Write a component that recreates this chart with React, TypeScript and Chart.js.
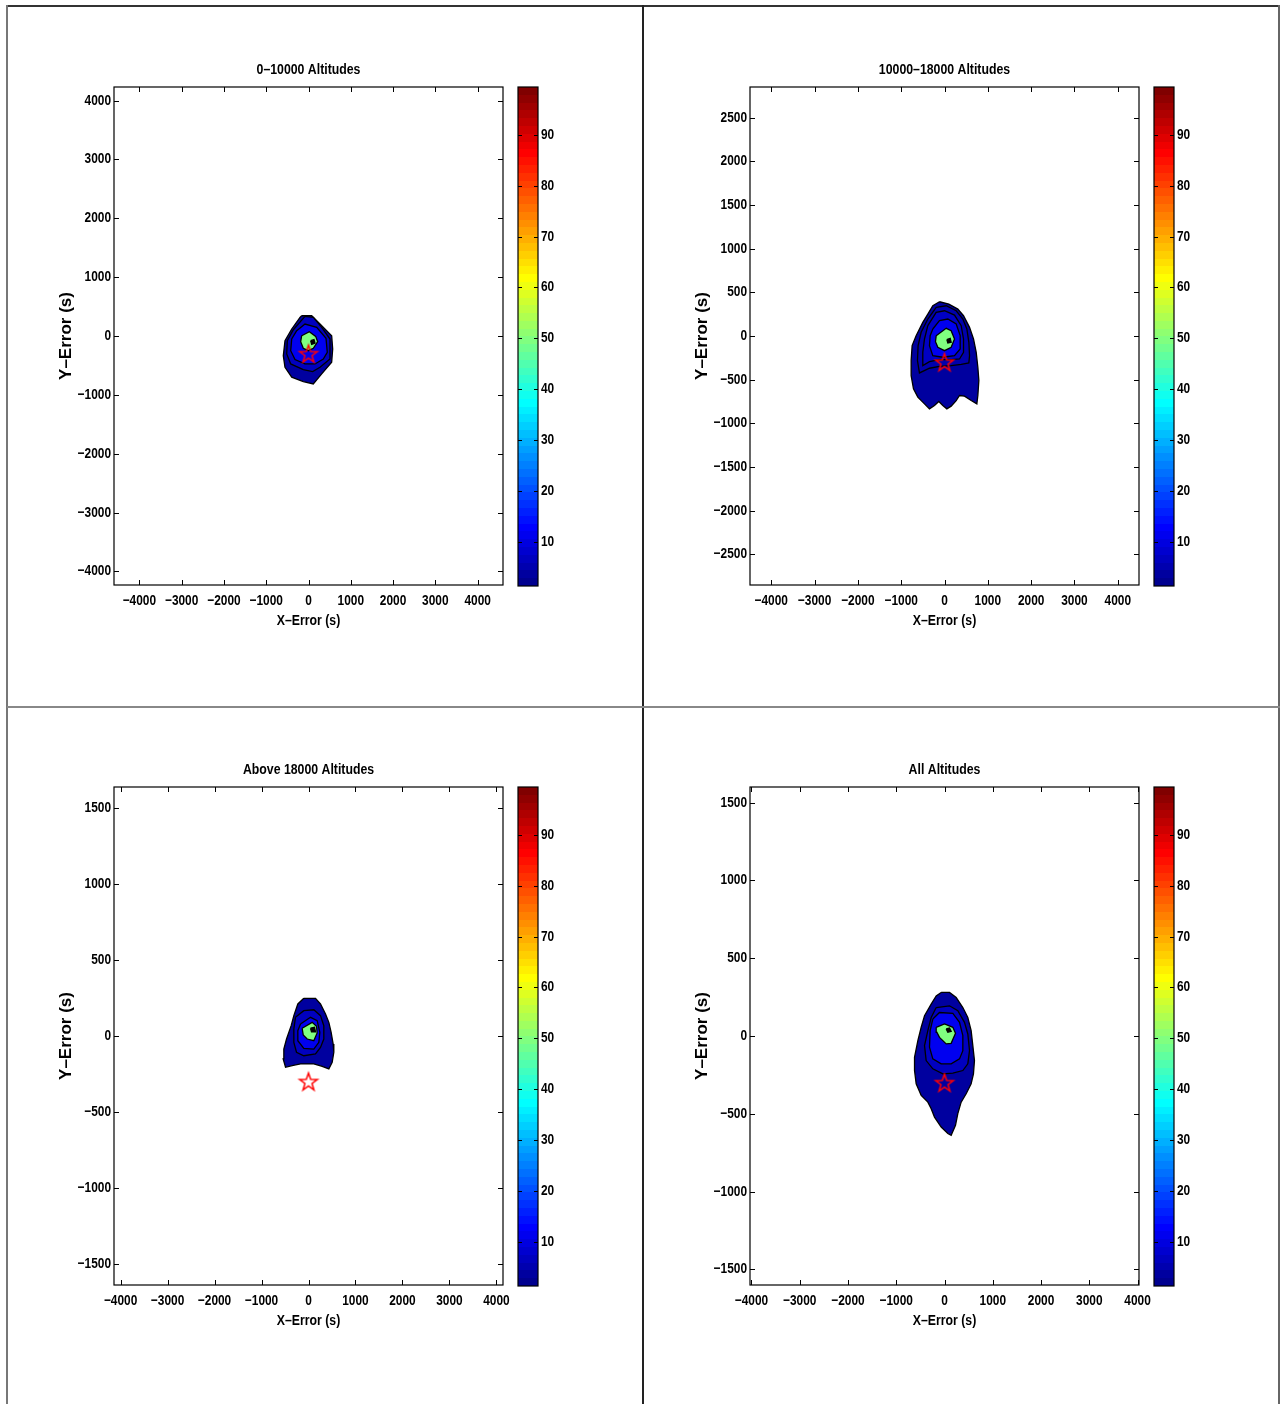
import React, { useEffect, useRef } from 'react';
import { Chart, registerables } from 'chart.js';

Chart.register(...registerables);

type Pt = [number, number];

// ---------- shared axis / colorbar data ----------
const X_TICKS = [-4000, -3000, -2000, -1000, 0, 1000, 2000, 3000, 4000];
const STAR: Pt = [0, -300];
const CBAR_RANGE: Pt = [1.3, 99.4];
const CBAR_TICKS = [10, 20, 30, 40, 50, 60, 70, 80, 90];

// ---------- panel 1 : 0-10000 ----------
const p1Title = '0–10000 Altitudes';
const p1XRange: Pt = [-4600, 4600];
const p1YRange: Pt = [-4230, 4230];
const p1YTicks = [-4000, -3000, -2000, -1000, 0, 1000, 2000, 3000, 4000];
const p1L1: Pt[] = [[-161, 344], [75, 344], [272, 203], [548, 5], [572, -220], [548, -446], [312, -644], [113, -814], [-123, -774], [-397, -700], [-556, -531], [-596, -334], [-556, -80], [-397, 119], [-201, 317]];
const p1L2: Pt[] = [[-83, 334], [114, 317], [312, 147], [508, -51], [508, -390], [272, -531], [99, -605], [-123, -571], [-421, -475], [-515, -305], [-501, -80], [-359, 107]];
const p1L3: Pt[] = [[-279, 90], [-83, 203], [194, 147], [414, -39], [444, -276], [350, -390], [154, -475], [-83, -475], [-319, -401], [-421, -249], [-397, -51]];
const p1Green: Pt[] = [[-161, 5], [20, 73], [170, -6], [217, -96], [114, -209], [-5, -249], [-123, -209], [-185, -96]];
const p1Peak: Pt[] = [[52, -80], [130, -62], [154, -119], [75, -141]];

// ---------- panel 2 : 10000-18000 ----------
const p2Title = '10000–18000 Altitudes';
const p2XRange: Pt = [-4490, 4490];
const p2YRange: Pt = [-2850, 2850];
const p2YTicks = [-2500, -2000, -1500, -1000, -500, 0, 500, 1000, 1500, 2000, 2500];
const p2L1: Pt[] = [[-116, 392], [100, 365], [308, 308], [439, 232], [578, 99], [670, -34], [732, -186], [770, -358], [793, -510], [770, -681], [747, -777], [616, -739], [462, -689], [347, -681], [270, -739], [154, -803], [54, -834], [-39, -796], [-131, -750], [-231, -796], [-347, -834], [-462, -777], [-616, -700], [-716, -605], [-770, -453], [-770, -282], [-747, -110], [-655, 4], [-501, 156], [-385, 251], [-270, 346]];
const p2L2: Pt[] = [[-192, 327], [39, 346], [270, 289], [424, 194], [516, 80], [562, -72], [578, -225], [562, -308], [385, -324], [154, -339], [-116, -347], [-347, -369], [-578, -423], [-624, -282], [-609, -110], [-539, 42], [-385, 194]];
const p2L3: Pt[] = [[-385, 118], [-192, 270], [0, 289], [231, 240], [385, 118], [439, -34], [439, -186], [347, -263], [154, -270], [-116, -270], [-347, -293], [-501, -339], [-501, -186], [-462, -34]];
const p2L4: Pt[] = [[-270, 80], [-116, 175], [77, 194], [270, 137], [362, 4], [362, -148], [231, -225], [-39, -243], [-270, -225], [-347, -110], [-331, 4]];
const p2Green: Pt[] = [[-192, 4], [39, 88], [154, 61], [231, -34], [154, -129], [0, -168], [-154, -129], [-208, -65]];
const p2Peak: Pt[] = [[54, -42], [131, -27], [154, -72], [77, -80]];

// ---------- panel 3 : above 18000 ----------
const p3Title = 'Above 18000 Altitudes';
const p3XRange: Pt = [-4140, 4140];
const p3YRange: Pt = [-1640, 1640];
const p3YTicks = [-1500, -1000, -500, 0, 500, 1000, 1500];
const p3L1: Pt[] = [[-100, 248], [149, 248], [255, 211], [362, 145], [433, 90], [482, 24], [525, -53], [539, -107], [504, -173], [433, -217], [291, -200], [113, -184], [-170, -184], [-347, -195], [-489, -206], [-539, -151], [-525, -86], [-468, -20], [-369, 68], [-312, 134], [-227, 211]];
const p3L2: Pt[] = [[-277, 123], [-100, 167], [113, 173], [255, 134], [326, 68], [326, -20], [255, -75], [149, -118], [-100, -130], [-255, -107], [-312, -42], [-312, 46]];
const p3L3: Pt[] = [[-170, 79], [43, 123], [184, 101], [241, 24], [220, -42], [113, -86], [-100, -81], [-227, -31], [-227, 35]];
const p3Green: Pt[] = [[-135, 51], [78, 90], [170, 64], [184, 20], [113, -31], [-28, -20], [-113, 7]];
const p3Peak: Pt[] = [[43, 51], [128, 57], [149, 28], [64, 28]];

// ---------- panel 4 : all ----------
const p4Title = 'All Altitudes';
const p4XRange: Pt = [-4030, 4030];
const p4YRange: Pt = [-1600, 1600];
const p4YTicks = [-1500, -1000, -500, 0, 500, 1000, 1500];
const p4L1: Pt[] = [[-69, 280], [104, 280], [242, 247], [380, 183], [483, 119], [552, 34], [587, -62], [621, -158], [600, -243], [552, -307], [449, -371], [345, -425], [276, -499], [228, -574], [138, -638], [69, -627], [-69, -585], [-207, -521], [-276, -467], [-345, -425], [-483, -382], [-587, -307], [-621, -222], [-621, -137], [-552, -30], [-483, 56], [-414, 130], [-276, 205], [-172, 258]];
const p4L2: Pt[] = [[-172, 183], [104, 194], [276, 162], [414, 88], [483, 13], [518, -94], [483, -179], [380, -222], [173, -239], [-35, -243], [-242, -211], [-380, -158], [-414, -62], [-345, 34], [-276, 119]];
const p4L3: Pt[] = [[-242, 109], [-104, 151], [173, 145], [311, 88], [380, 2], [380, -94], [311, -147], [138, -179], [-69, -179], [-242, -147], [-311, -72], [-297, 34]];
const p4Green: Pt[] = [[-172, 56], [0, 77], [173, 56], [228, 17], [138, -47], [35, -51], [-104, -9], [-159, 24]];
const p4Peak: Pt[] = [[35, 45], [104, 51], [138, 30], [69, 24]];

// ---------- styling ----------
const NARROW = '"Liberation Sans", sans-serif';
const WIDE = '"Liberation Sans", Arial, sans-serif';
const CONDENSE = 0.82;
const CELL_W = 636;
const CELL_H = 700;

interface PanelCfg {
  title: string;
  xr: Pt;
  yr: Pt;
  yt: number[];
  levels: Pt[][];
  colors: string[];
  col: number;
  row: number;
}

const PANELS: PanelCfg[] = [
  { title: p1Title, xr: p1XRange, yr: p1YRange, yt: p1YTicks, levels: [p1L1, p1L2, p1L3, p1Green, p1Peak], colors: ['#00009f', '#0000bf', '#0000f0', '#80ff80', '#000000'], col: 0, row: 0 },
  { title: p2Title, xr: p2XRange, yr: p2YRange, yt: p2YTicks, levels: [p2L1, p2L2, p2L3, p2L4, p2Green, p2Peak], colors: ['#00009f', '#0000ad', '#0000c4', '#0000f0', '#80ff80', '#000000'], col: 1, row: 0 },
  { title: p3Title, xr: p3XRange, yr: p3YRange, yt: p3YTicks, levels: [p3L1, p3L2, p3L3, p3Green, p3Peak], colors: ['#00009f', '#0000bf', '#0000f0', '#80ff80', '#000000'], col: 0, row: 1 },
  { title: p4Title, xr: p4XRange, yr: p4YRange, yt: p4YTicks, levels: [p4L1, p4L2, p4L3, p4Green, p4Peak], colors: ['#00009f', '#0000bf', '#0000f0', '#80ff80', '#000000'], col: 1, row: 1 },
];

// MATLAB jet(m)
function jet(m: number): string[] {
  const n = Math.ceil(m / 4);
  const u: number[] = [];
  for (let i = 1; i <= n; i++) u.push(i / n);
  for (let i = 1; i < n; i++) u.push(1);
  for (let i = n; i >= 1; i--) u.push(i / n);
  const g0 = Math.ceil(n / 2) - (m % 4 === 1 ? 1 : 0);
  const J = Array.from({ length: m }, () => [0, 0, 0]);
  for (let k = 0; k < u.length; k++) {
    const gi = g0 + k + 1;
    const ri = gi + n;
    const bi = gi - n;
    if (gi >= 1 && gi <= m) J[gi - 1][1] = u[k];
    if (ri >= 1 && ri <= m) J[ri - 1][0] = u[k];
    if (bi >= 1 && bi <= m) J[bi - 1][2] = u[k];
  }
  return J.map(([r, g, b]) => `rgb(${Math.round(r * 255)},${Math.round(g * 255)},${Math.round(b * 255)})`);
}
const JET64 = jet(64);

const fmt = (v: number | string) => {
  const n = Number(v);
  return n < 0 ? '−' + Math.abs(n) : String(n);
};

const closed = (poly: Pt[]) => [...poly, poly[0]].map(([x, y]) => ({ x, y }));

let starCanvas: HTMLCanvasElement | null = null;
function getStar(): HTMLCanvasElement {
  if (starCanvas) return starCanvas;
  const c = document.createElement('canvas');
  c.width = 24;
  c.height = 24;
  const g = c.getContext('2d')!;
  g.strokeStyle = '#ff0000';
  g.lineWidth = 1.5;
  g.lineJoin = 'miter';
  g.beginPath();
  for (let i = 0; i < 10; i++) {
    const r = i % 2 === 0 ? 9.3 : 3.7;
    const ang = -Math.PI / 2 + (i * Math.PI) / 5;
    const x = 12 + r * Math.cos(ang);
    const y = 12.8 + r * Math.sin(ang);
    if (i === 0) g.moveTo(x, y);
    else g.lineTo(x, y);
  }
  g.closePath();
  g.stroke();
  starCanvas = c;
  return c;
}

// Helvetica-Narrow-like rendering: horizontally condense text drawn by the chart
const narrowPlugin = {
  id: 'narrowText',
  beforeDraw(chart: any) {
    const ctx = chart.ctx as any;
    if (ctx.__narrow) return;
    const orig = ctx.fillText.bind(ctx);
    ctx.fillText = (text: string, x: number, y: number, maxWidth?: number) => {
      if (String(ctx.font).includes('Arial')) {
        if (maxWidth === undefined) orig(text, x, y);
        else orig(text, x, y, maxWidth);
        return;
      }
      ctx.save();
      ctx.translate(x, y);
      ctx.scale(CONDENSE, 1);
      if (maxWidth === undefined) orig(text, 0, 0);
      else orig(text, 0, 0, maxWidth / CONDENSE);
      ctx.restore();
    };
    ctx.__narrow = true;
  },
};

const framePlugin = {
  id: 'frame',
  afterDatasetsDraw(chart: any, _args: any, opts: any) {
    const { ctx, chartArea: a, scales } = chart;
    const tl = opts.tickLen ?? 5;
    ctx.save();
    ctx.strokeStyle = '#000';
    ctx.lineWidth = 1;
    ctx.beginPath();
    if (opts.xTicks !== false && scales.x && scales.x.options.display !== false) {
      for (const t of scales.x.ticks) {
        const p = Math.round(scales.x.getPixelForValue(t.value)) + 0.5;
        ctx.moveTo(p, a.bottom);
        ctx.lineTo(p, a.bottom - tl);
        ctx.moveTo(p, a.top);
        ctx.lineTo(p, a.top + tl);
      }
    }
    for (const t of scales.y.ticks) {
      const p = Math.round(scales.y.getPixelForValue(t.value)) + 0.5;
      ctx.moveTo(a.left, p);
      ctx.lineTo(a.left + tl, p);
      ctx.moveTo(a.right, p);
      ctx.lineTo(a.right - tl, p);
    }
    ctx.stroke();
    ctx.lineWidth = opts.frameWidth ?? 1.2;
    ctx.strokeRect(a.left, a.top, a.right - a.left, a.bottom - a.top);
    ctx.restore();
  },
};

function Panel({ cfg }: { cfg: PanelCfg }) {
  const ref = useRef<HTMLCanvasElement>(null);
  useEffect(() => {
    const polys = cfg.levels.map((poly, i) => ({
      data: closed(poly),
      showLine: true,
      fill: 'shape',
      backgroundColor: cfg.colors[i],
      borderColor: '#000000',
      borderWidth: 1.3,
      pointRadius: 0,
      pointHoverRadius: 0,
      tension: 0,
      order: 100 - i,
    }));
    const star = {
      data: [{ x: STAR[0], y: STAR[1] }],
      pointStyle: getStar(),
      pointRadius: 9,
      showLine: false,
      order: 0,
    };
    const tickFont = { family: NARROW, size: 14.5, weight: 'bold' as const };
    const chart = new Chart(ref.current!, {
      type: 'scatter',
      data: { datasets: [star, ...polys] as any },
      plugins: [narrowPlugin, framePlugin],
      options: {
        animation: false,
        responsive: false,
        maintainAspectRatio: false,
        events: [],
        layout: { padding: { left: 0, top: 55, right: 140, bottom: 61 } },
        plugins: {
          legend: { display: false },
          tooltip: { enabled: false },
          title: {
            display: true,
            text: cfg.title,
            fullSize: false,
            color: '#000',
            font: { family: NARROW, size: 15, weight: 'bold' },
            padding: { top: 0, bottom: 8 },
          },
          frame: { tickLen: 5 },
        } as any,
        scales: {
          x: {
            type: 'linear',
            min: cfg.xr[0],
            max: cfg.xr[1],
            afterBuildTicks: (s: any) => {
              s.ticks = X_TICKS.map((v) => ({ value: v }));
            },
            afterFit: (s: any) => {
              s.height = 60;
            },
            grid: { display: false, drawTicks: false },
            border: { display: false },
            ticks: { color: '#000', font: tickFont, padding: 7, maxRotation: 0, autoSkip: false, callback: fmt },
            title: { display: true, text: 'X–Error (s)', color: '#000', font: { family: NARROW, size: 15, weight: 'bold' }, padding: { top: 0, bottom: 15 } },
          },
          y: {
            type: 'linear',
            min: cfg.yr[0],
            max: cfg.yr[1],
            afterBuildTicks: (s: any) => {
              s.ticks = cfg.yt.map((v) => ({ value: v }));
            },
            afterFit: (s: any) => {
              s.width = 107;
            },
            grid: { display: false, drawTicks: false },
            border: { display: false },
            ticks: { color: '#000', font: tickFont, padding: 3, autoSkip: false, callback: fmt },
            title: { display: true, text: 'Y–Error (s)', color: '#000', font: { family: WIDE, size: 17, weight: 'bold' }, padding: { top: 49, bottom: 0 } },
          },
        } as any,
      },
    });
    return () => chart.destroy();
  }, [cfg]);
  const left = 7 + CELL_W * cfg.col;
  const top = 6 + CELL_H * cfg.row;
  return <canvas ref={ref} width={CELL_W} height={CELL_H} style={{ position: 'absolute', left, top, width: CELL_W, height: CELL_H }} />;
}

function Colorbar({ col, row }: { col: number; row: number }) {
  const ref = useRef<HTMLCanvasElement>(null);
  useEffect(() => {
    const chart = new Chart(ref.current!, {
      type: 'bar',
      data: {
        labels: ['c'],
        datasets: [
          {
            data: [CBAR_RANGE as any],
            barPercentage: 1,
            categoryPercentage: 1,
            borderWidth: 0,
            backgroundColor: (c: any) => {
              const a = c.chart.chartArea;
              if (!a) return JET64[0];
              const g = c.chart.ctx.createLinearGradient(0, a.bottom, 0, a.top);
              JET64.forEach((colr, i) => {
                g.addColorStop(i / 64, colr);
                g.addColorStop((i + 1) / 64, colr);
              });
              return g;
            },
          },
        ],
      },
      plugins: [narrowPlugin, framePlugin],
      options: {
        animation: false,
        responsive: false,
        maintainAspectRatio: false,
        events: [],
        layout: { padding: { left: 5, top: 5, right: 0, bottom: 5 } },
        plugins: { legend: { display: false }, tooltip: { enabled: false }, frame: { tickLen: 4, xTicks: false, frameWidth: 1.2 } } as any,
        scales: {
          x: { display: false },
          y: {
            type: 'linear',
            position: 'right',
            min: CBAR_RANGE[0],
            max: CBAR_RANGE[1],
            afterBuildTicks: (s: any) => {
              s.ticks = CBAR_TICKS.map((v) => ({ value: v }));
            },
            afterFit: (s: any) => {
              s.width = 35;
              s.paddingTop = 0;
              s.paddingBottom = 0;
            },
            grid: { display: false, drawTicks: false },
            border: { display: false },
            ticks: { color: '#000', font: { family: NARROW, size: 14.5, weight: 'bold' }, padding: 3, autoSkip: false },
          },
        } as any,
      },
    });
    return () => chart.destroy();
  }, [col, row]);
  const left = 7 + CELL_W * col + 506;
  const top = 6 + CELL_H * row + 76;
  return <canvas ref={ref} width={60} height={509} style={{ position: 'absolute', left, top, width: 60, height: 509 }} />;
}

export default function App() {
  useEffect(() => {
    document.body.style.margin = '0';
  }, []);
  const line = (l: number, t: number, w: number, h: number, c: string) => (
    <div style={{ position: 'absolute', left: l, top: t, width: w, height: h, background: c }} />
  );
  return (
    <div style={{ position: 'relative', width: 1282, height: 1404, background: '#fff', overflow: 'hidden' }}>
      {line(7, 5, 1273, 2, '#333')}
      {line(6, 5, 2, 1399, '#777')}
      {line(642, 5, 2, 1399, '#222')}
      {line(1278, 5, 2, 1399, '#666')}
      {line(7, 706, 1273, 2, '#888')}
      {PANELS.map((p) => (
        <React.Fragment key={p.title}>
          <Panel cfg={p} />
          <Colorbar col={p.col} row={p.row} />
        </React.Fragment>
      ))}
    </div>
  );
}
